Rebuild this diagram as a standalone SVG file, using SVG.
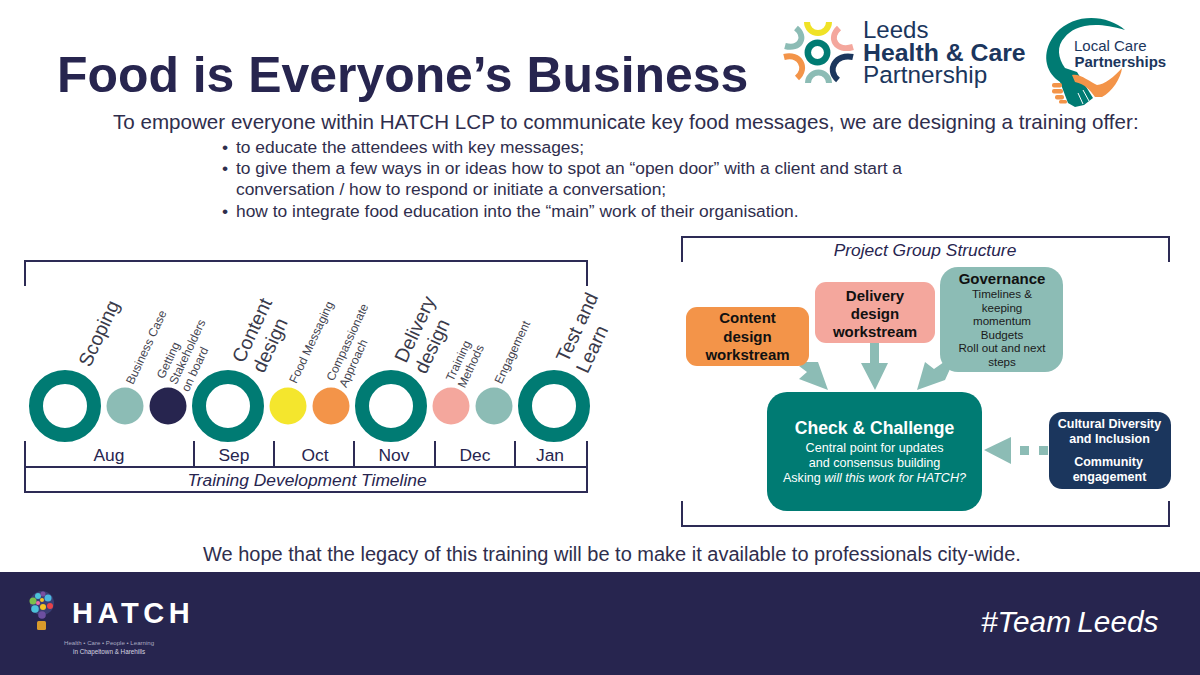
<svg xmlns="http://www.w3.org/2000/svg" width="1200" height="675" viewBox="0 0 1200 675">
<style>
text{font-family:"Liberation Sans",Arial,sans-serif;fill:#27254f}
.b{font-weight:700}.i{font-style:italic}.m{text-anchor:middle}
.line{fill:none;stroke:#2d2b55;stroke-width:2}
.ring{fill:none;stroke:#007b73;stroke-width:14}
.big{font-size:19.5px;fill:#3a3a4a;text-anchor:middle}.sm{font-size:12px;fill:#444450;text-anchor:middle}
.mon{font-size:17.4px;text-anchor:middle}
.cap{font-size:17.4px;font-style:italic;text-anchor:middle}
.bul{font-size:17.4px;fill:#2f2e4d}
.blk{fill:#111;text-anchor:middle;font-weight:700;font-size:15px}
.gv{fill:#1a1a1a;text-anchor:middle;font-size:11.6px}
.wh{fill:#fff;text-anchor:middle}
.arr{fill:#8cbcb5}
.nv{fill:#1b365d}
</style>
<rect width="1200" height="675" fill="#fff"/>
<g id="header">
<text x="57" y="92" class="b" font-size="49.9">Food is Everyone’s Business</text>
<text x="113" y="129" font-size="20.6" style="fill:#2f2e4d">To empower everyone within HATCH LCP to communicate key food messages, we are designing a training offer:</text>
<text x="222" y="153" class="bul">•</text><text x="236" y="153" class="bul">to educate the attendees with key messages;</text>
<text x="222" y="174" class="bul">•</text><text x="236" y="174" class="bul">to give them a few ways in or ideas how to spot an “open door” with a client and start a</text>
<text x="236" y="195" class="bul">conversation / how to respond or initiate a conversation;</text>
<text x="222" y="217" class="bul">•</text><text x="236" y="217" class="bul">how to integrate food education into the “main” work of their organisation.</text>
</g>
<g id="logo-leeds">
<g fill="none" stroke-width="6">
<circle cx="817.500" cy="52.500" r="9.700" stroke="#007b73" stroke-width="6.500"/>
<path d="M807 22A11 11 0 0 0 829 22" stroke="#f0e227"/>
<path d="M808 83A10.500 10.500 0 0 1 829 83" stroke="#8cbcb5"/>
<path d="M796 28C807 37 800 50 785 46" stroke="#8cbcb5"/>
<path d="M784 57C800 53 808 68 797 78" stroke="#f39449"/>
<path d="M839 28C828 38 836 52 853 47" stroke="#f4a79d"/>
<path d="M853 57C836 53 826 70 838 80" stroke="#1b365d"/>
</g>
<text x="863" y="38" font-size="24" class="nv">Leeds</text>
<text x="863" y="61" font-size="24.800" class="b nv">Health &amp; Care</text>
<text x="863" y="83" font-size="24.300" class="nv">Partnership</text>
</g>
<g id="logo-lcp">
<path d="M1125 30C1108 15 1075 12 1056 33C1042 50 1044 68 1056 79L1060 82L1068 103L1075 107L1084 105L1093 98L1085 85L1077 72L1065 68C1058 58 1056 46 1065 37C1072 28 1090 19 1125 30Z" fill="#007b73"/>
<path d="M1072 36C1066 42 1062 50 1061 58" fill="none" stroke="#fff" stroke-width="1.200"/>
<path d="M1078 93L1083 104M1083 90L1089 101" stroke="#fff" stroke-width="1"/>
<path d="M1072 75C1080 73 1090 82 1097 85C1104 85 1115 76 1122 68C1121 78 1112 92 1102 97L1095 97C1090 90 1085 84 1075 82Z" fill="#f39449"/>
<g fill="#f39449"><rect x="1052" y="83" width="10" height="4.500" rx="2"/><rect x="1052" y="89" width="11" height="4.500" rx="2"/><rect x="1055" y="95" width="9" height="4.500" rx="2"/><rect x="1059" y="100" width="8" height="3.500" rx="1.500"/></g>
<text x="1074" y="51" font-size="15" class="nv">Local Care</text>
<text x="1074.500" y="67" font-size="15" class="b nv">Partnerships</text>
</g>
<g id="timeline">
<path class="line" d="M25 286V261H587V286"/>
<path class="line" d="M25 441V492H587V441M25 467H587M194 441V467M274 441V467M354 441V467M435 441V467M515 441V467"/>
<g id="stage-scoping"><circle class="ring" cx="65" cy="406" r="29"/></g>
<g id="stage-content"><circle class="ring" cx="228" cy="406" r="29"/></g>
<g id="stage-delivery"><circle class="ring" cx="391" cy="406" r="29"/></g>
<g id="stage-test"><circle class="ring" cx="554" cy="406" r="29"/></g>
<circle id="dot-business" cx="125" cy="406" r="18.500" fill="#8cbcb5"/>
<circle id="dot-stakeholders" cx="168" cy="406" r="18.500" fill="#27254f"/>
<circle id="dot-food" cx="288" cy="406" r="18.500" fill="#f4e62d"/>
<circle id="dot-compassion" cx="331" cy="406" r="18.500" fill="#f39449"/>
<circle id="dot-methods" cx="451" cy="406" r="18.500" fill="#f4a79d"/>
<circle id="dot-engagement" cx="494" cy="406" r="18.500" fill="#8cbcb5"/>
<text class="big" transform="translate(105 336) rotate(-65)">Scoping</text>
<text class="big" transform="translate(258 333) rotate(-65)">Content</text>
<text class="big" transform="translate(276 348) rotate(-65)">design</text>
<text class="big" transform="translate(421 332) rotate(-65)">Delivery</text>
<text class="big" transform="translate(438 349) rotate(-65)">design</text>
<text class="big" transform="translate(583 330) rotate(-65)">Test and</text>
<text class="big" transform="translate(598 352) rotate(-65)">Learn</text>
<text class="sm" transform="translate(150 349) rotate(-65)">Business Case</text>
<text class="sm" transform="translate(172 362) rotate(-65)">Getting</text>
<text class="sm" transform="translate(191 353.500) rotate(-65)">Stakeholders</text>
<text class="sm" transform="translate(198.500 371) rotate(-65)">on board</text>
<text class="sm" transform="translate(315 344) rotate(-65)">Food Messaging</text>
<text class="sm" transform="translate(351 344) rotate(-65)">Compassionate</text>
<text class="sm" transform="translate(357 365) rotate(-65)">Approach</text>
<text class="sm" transform="translate(462 362.500) rotate(-65)">Training</text>
<text class="sm" transform="translate(474.500 368) rotate(-65)">Methods</text>
<text class="sm" transform="translate(516 354) rotate(-65)">Engagement</text>
<text class="mon" x="109" y="461">Aug</text><text class="mon" x="234" y="461">Sep</text><text class="mon" x="315" y="461">Oct</text><text class="mon" x="394" y="461">Nov</text><text class="mon" x="475" y="461">Dec</text><text class="mon" x="550" y="461">Jan</text>
<text class="cap" x="307" y="486">Training Development Timeline</text>
</g>
<g id="structure-frame">
<path class="line" d="M682 262V237H1169V262M682 501V526H1169V501"/>
<text class="cap" x="925" y="256">Project Group Structure</text>
</g>
<g id="connectors">
<path class="arr" d="M799 366L806 362L818 362L828 390L799 379L807 372Z"/>
<path class="arr" d="M870 343H879V363H888L875 390L861 363H870Z"/>
<path class="arr" d="M944 362L950 369L945 380L917 390L925 362L934 369Z"/>
<path class="arr" d="M984 450L1011 437V464Z"/>
<rect class="arr" x="1020" y="446" width="9" height="9"/><rect class="arr" x="1039" y="446" width="9" height="9"/>
</g>
<g id="node-content"><rect x="686" y="307" width="123" height="59" rx="11" fill="#f39449"/>
<text class="blk" x="747.500" y="323">Content</text><text class="blk" x="747.500" y="342">design</text><text class="blk" x="747.500" y="360">workstream</text></g>
<g id="node-delivery"><rect x="815" y="282" width="120" height="61" rx="11" fill="#f4a79d"/>
<text class="blk" x="875" y="301">Delivery</text><text class="blk" x="875" y="319">design</text><text class="blk" x="875" y="337">workstream</text></g>
<g id="node-governance"><rect x="940" y="267" width="123" height="105" rx="18" fill="#8cbcb5"/>
<text class="blk" x="1002" y="284">Governance</text>
<text class="gv" x="1002" y="298">Timelines &amp;</text><text class="gv" x="1002" y="312">keeping</text><text class="gv" x="1002" y="325">momentum</text><text class="gv" x="1002" y="339">Budgets</text><text class="gv" x="1002" y="352">Roll out and next</text><text class="gv" x="1002" y="366">steps</text></g>
<g id="node-check"><rect x="767" y="392" width="215" height="119" rx="20" fill="#007b73"/>
<text class="wh b" x="874.500" y="434" font-size="17.600">Check &amp; Challenge</text>
<text class="wh" x="874.500" y="452" font-size="12.600">Central point for updates</text>
<text class="wh" x="874.500" y="467" font-size="12.600">and consensus building</text>
<text class="wh" x="874.500" y="482" font-size="12.600">Asking <tspan font-style="italic" style="fill:#fff">will this work for HATCH?</tspan></text></g>
<g id="node-cultural"><rect x="1049" y="412" width="122" height="77" rx="13" fill="#1b365d"/>
<text class="wh b" x="1109.500" y="428" font-size="12.500">Cultural Diversity</text>
<text class="wh b" x="1109.500" y="443" font-size="12.500">and Inclusion</text>
<text class="wh b" x="1108.500" y="466" font-size="12.500">Community</text>
<text class="wh b" x="1109.500" y="481" font-size="12.500">engagement</text></g>
<text x="203" y="561" font-size="20" style="fill:#2f2e4d">We hope that the legacy of this training will be to make it available to professionals city-wide.</text>
<g id="footer">
<rect y="572" width="1200" height="103" fill="#27254f"/>
<g id="hatch-bulb">
<circle cx="42" cy="603" r="12" fill="#3a3f74"/>
<circle cx="33" cy="601" r="3.500" fill="#7cc04b"/><circle cx="38" cy="596" r="3" fill="#4cc3d9"/><circle cx="43" cy="594" r="2.500" fill="#7a4fa0"/><circle cx="48" cy="598" r="3.500" fill="#4cb8e0"/><circle cx="50" cy="606" r="3" fill="#e8434a"/><circle cx="35" cy="609" r="3.800" fill="#4cc3d9"/><circle cx="43" cy="607" r="3" fill="#f6c324"/><circle cx="42" cy="615" r="3.800" fill="#6c4fa0"/><circle cx="38" cy="603" r="2" fill="#ec6fa8"/><circle cx="42" cy="600" r="2" fill="#f6c324"/>
<rect x="37" y="621" width="9" height="9" rx="1.500" fill="#d99a2b"/>
</g>
<text x="72" y="623" class="b" font-size="29" letter-spacing="4.600" style="fill:#fff">HATCH</text>
<text x="64" y="645" font-size="6.100" style="fill:#a9a9c0">Health • Care • People • Learning</text>
<text x="73" y="654" font-size="6.300" style="fill:#d5d5e2">in Chapeltown &amp; Harehills</text>
<text x="981" y="632" class="i" font-size="29.800" word-spacing="-2" style="fill:#fff">#Team Leeds</text>
</g>
</svg>
